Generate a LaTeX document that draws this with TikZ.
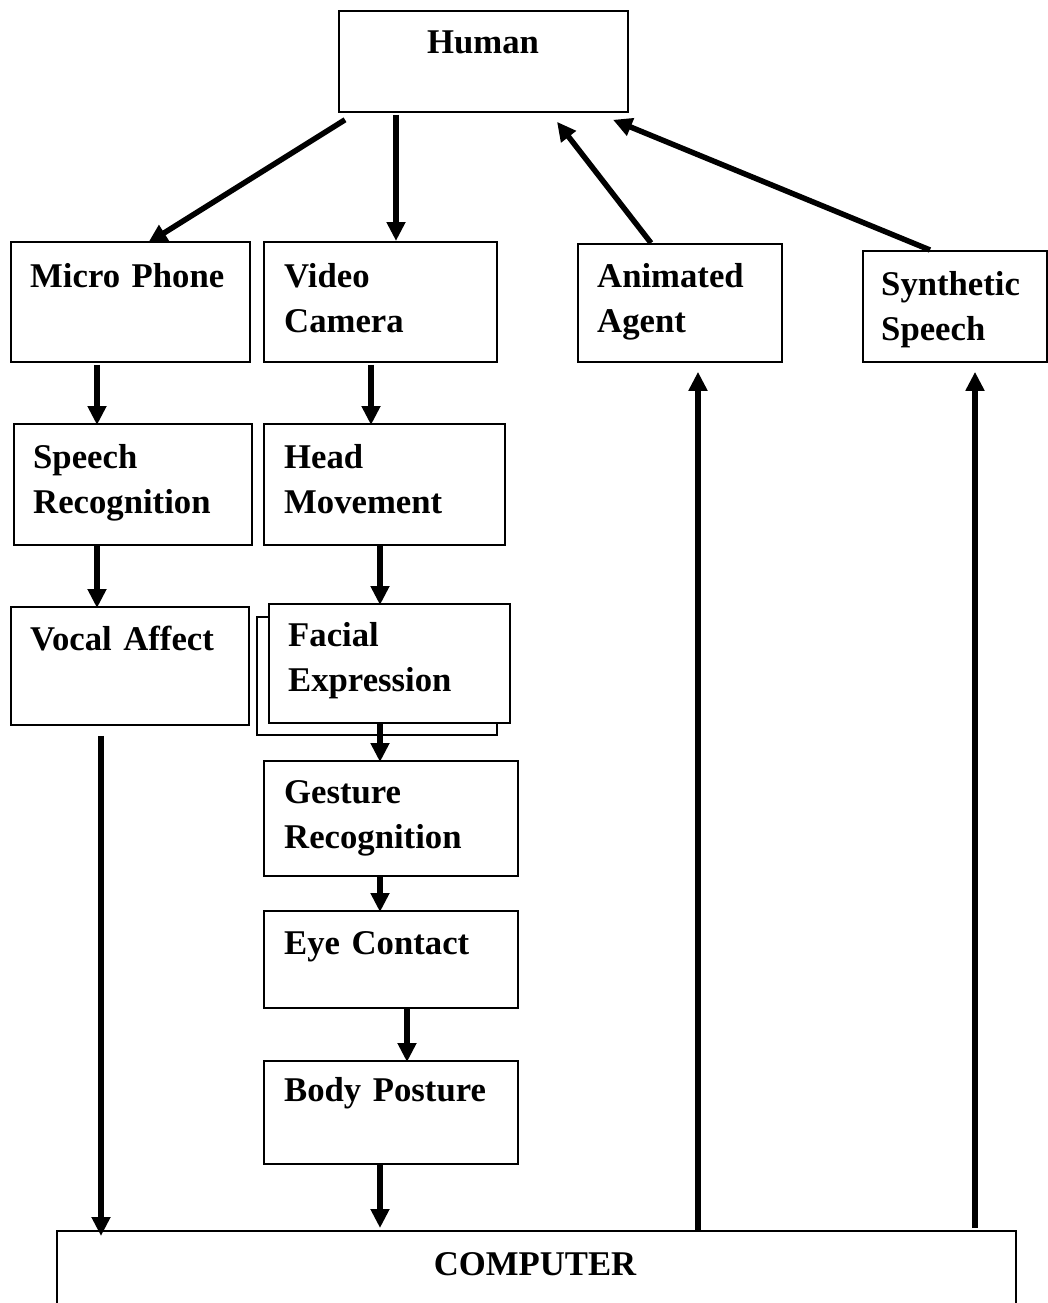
\documentclass[tikz,border=0pt]{standalone}
\usepackage{fontspec}
\setmainfont{Liberation Serif}
\usetikzlibrary{arrows.meta,calc}
\begin{document}
\begin{tikzpicture}[x=1pt,y=-1pt,
  box/.style={draw=black,line width=1.8pt,fill=white,inner sep=0pt,anchor=north west},
  lbl/.style={inner sep=0pt,anchor=base west,align=left,text width=300pt,
    font=\fontsize{34.7}{45.5}\selectfont\bfseries},
  arr/.style={line width=5.5pt,-{Triangle[length=19pt,width=18pt]}}]
\useasboundingbox (0,0) rectangle (1047,1303);

% boxes
\node[box,minimum width=289pt,minimum height=101pt] (human) at (338,10) {};
\node[box,minimum width=239pt,minimum height=120pt] (mp) at (10,241) {};
\node[box,minimum width=233pt,minimum height=120pt] (vc) at (263,241) {};
\node[box,minimum width=204pt,minimum height=118pt] (aa) at (577,243) {};
\node[box,minimum width=184pt,minimum height=111pt] (ss) at (862,250) {};
\node[box,minimum width=238pt,minimum height=121pt] (sr) at (13,423) {};
\node[box,minimum width=241pt,minimum height=121pt] (hm) at (263,423) {};
\node[box,minimum width=238pt,minimum height=118pt] (va) at (10,606) {};
\node[box,minimum width=240pt,minimum height=118pt] (feback) at (256,616) {};
\node[box,minimum width=241pt,minimum height=119pt] (fe) at (268,603) {};
\node[box,minimum width=254pt,minimum height=115pt] (gr) at (263,760) {};
\node[box,minimum width=254pt,minimum height=97pt] (ec) at (263,910) {};
\node[box,minimum width=254pt,minimum height=103pt] (bp) at (263,1060) {};
\node[box,minimum width=959pt,minimum height=90pt] (comp) at (56,1230) {};

% texts
\node[inner sep=0pt,anchor=base,font=\fontsize{34.7}{45.5}\selectfont\bfseries] (human-t) at (483,54) {Human};
\node[lbl] (mp-t) at (30,287) {Micro Phone};
\node[lbl] (vc-t) at (284,287) {Video\\Camera};
\node[lbl] (aa-t) at (597,287) {Animated\\Agent};
\node[lbl] (ss-t) at (881,295) {Synthetic\\Speech};
\node[lbl] (sr-t) at (33,468) {Speech\\Recognition};
\node[lbl] (hm-t) at (284,468) {Head\\Movement};
\node[lbl] (va-t) at (30,650) {Vocal Affect};
\node[lbl] (fe-t) at (288,646) {Facial\\Expression};
\node[lbl] (gr-t) at (284,803) {Gesture\\Recognition};
\node[lbl] (ec-t) at (284,954) {Eye Contact};
\node[lbl] (bp-t) at (284,1101) {Body Posture};
\node[inner sep=0pt,anchor=base,font=\fontsize{34.7}{45.5}\selectfont\bfseries] (comp-t) at (535,1275) {COMPUTER};

% connectors
\draw[arr] ([shift={(7,7)}]human.south west) -- ([shift={(138,2)}]mp.north west);
\draw[arr] ([shift={(58,2)}]human.south west) -- ([shift={(133,0)}]vc.north west);
\draw[arr] ([shift={(74,0)}]aa.north west) -- ([shift={(219,9)}]human.south west);
\draw[arr] ([shift={(68,0)}]ss.north west) -- ([shift={(275,7)}]human.south west);
\draw[arr] ([shift={(87,2)}]mp.south west) -- ([shift={(84,2)}]sr.north west);
\draw[arr] ([shift={(84,0)}]sr.south west) -- ([shift={(87,2)}]va.north west);
\draw[arr] ([shift={(108,2)}]vc.south west) -- ([shift={(108,2)}]hm.north west);
\draw[arr] ([shift={(117,0)}]hm.south west) -- ([shift={(112,2)}]fe.north west);
\draw[arr] ([shift={(112,0)}]fe.south west) -- ([shift={(117,2)}]gr.north west);
\draw[arr] ([shift={(117,0)}]gr.south west) -- ([shift={(117,2)}]ec.north west);
\draw[arr] ([shift={(144,0)}]ec.south west) -- ([shift={(144,2)}]bp.north west);
\draw[arr] ([shift={(117,0)}]bp.south west) -- ([shift={(324,-2)}]comp.north west);
\draw[arr] ([shift={(91,10)}]va.south west) -- ([shift={(45,6)}]comp.north west);
\draw[arr] ([shift={(642,0)}]comp.north west) -- ([shift={(121,9)}]aa.south west);
\draw[arr] ([shift={(919,-2)}]comp.north west) -- ([shift={(113,9)}]ss.south west);
\end{tikzpicture}
\end{document}
